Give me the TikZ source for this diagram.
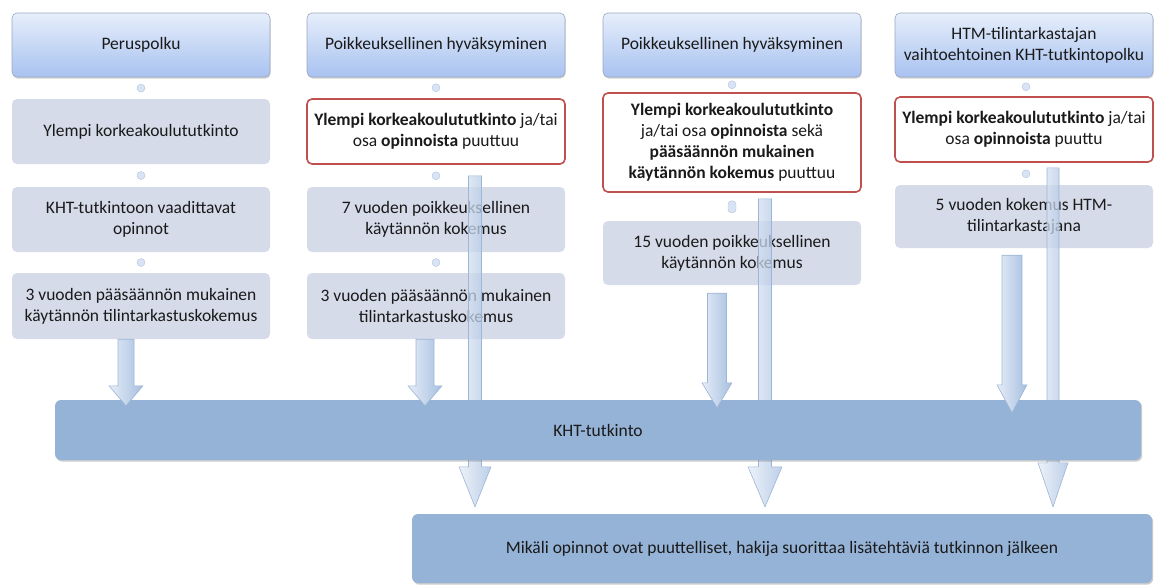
\documentclass[tikz,border=0pt]{standalone}
\usepackage{fontspec}
\setmainfont{Carlito}
\usetikzlibrary{shadows,calc}
\definecolor{hdrtop}{HTML}{E6EEFB}
\definecolor{hdrbot}{HTML}{A8C2F0}
\definecolor{hdrline}{HTML}{9AA8C0}
\definecolor{grayfill}{HTML}{D6DBE9}
\definecolor{redline}{HTML}{C0504D}
\definecolor{barfill}{HTML}{95B3D7}
\definecolor{arrL}{HTML}{E6EDF7}
\definecolor{arrR}{HTML}{A6BFE0}
\definecolor{arrB}{HTML}{9DB5D6}
\definecolor{dotfill}{HTML}{D8E3F4}
\definecolor{dotline}{HTML}{B4C4DE}
\definecolor{txt}{HTML}{1A1A1A}
\begin{document}
\begin{tikzpicture}[x=1pt,y=-1pt,
  font=\fontsize{17.5}{21}\selectfont, text=txt,
  box/.style={rectangle, rounded corners=5pt, minimum width=258pt, align=center, inner sep=2pt},
  hdr/.style={box, top color=hdrtop, bottom color=hdrbot, draw=hdrline, line width=0.6pt,
    minimum height=64pt, drop shadow={shadow xshift=0.6pt, shadow yshift=-1.6pt, opacity=0.35}},
  gbox/.style={box, fill=grayfill},
  rbox/.style={box, fill=white, draw=redline, line width=1.6pt},
  bar/.style={rectangle, rounded corners=6pt, fill=barfill, inner sep=2pt,
    drop shadow={shadow xshift=1.2pt, shadow yshift=-1.6pt, opacity=0.4}},
  dot/.style={circle, inner sep=0pt, minimum size=8pt, fill=dotfill, draw=dotline, line width=0.4pt},
  pill/.style={rectangle, rounded corners=3.5pt, inner sep=0pt, minimum width=8pt, minimum height=12pt,
    fill=dotfill, draw=dotline, line width=0.4pt},
  barr/.style={left color=arrL, right color=arrR, draw=arrB, line width=0.6pt},
  tarr/.style={barr, fill opacity=0.75},
  barrow/.style n args={3}{to path={let \p1=(\tikztostart), \p2=(\tikztotarget) in
    (\x1-#1,\y1) -- (\x1+#1,\y1) -- (\x1+#1,\y2+#3) -- (\x1+#2,\y2+#3) -- (\x1,\y2)
    -- (\x1-#2,\y2+#3) -- (\x1-#1,\y2+#3) -- cycle}}
]
\useasboundingbox (0,0) rectangle (1154,584);

% headers
\node[hdr] (h1) at (141,45) {Peruspolku};
\node[hdr] (h2) at (436,45) {Poikkeuksellinen hyväksyminen};
\node[hdr] (h3) at (732,45) {Poikkeuksellinen hyväksyminen};
\node[hdr] (h4) at (1024,45) {HTM-tilintarkastajan\\vaihtoehtoinen KHT-tutkintopolku};

% column 1
\node[gbox, minimum height=65pt] (a1) at (141,131.5) {Ylempi korkeakoulututkinto};
\node[gbox, minimum height=65pt] (a2) at (141,219.5) {KHT-tutkintoon vaadittavat\\opinnot};
\node[gbox, minimum height=66pt] (a3) at (141,306) {3 vuoden pääsäännön mukainen\\käytännön tilintarkastuskokemus};

% column 2
\node[rbox, minimum height=65pt] (b1) at (436,131.5) {\textbf{Ylempi korkeakoulututkinto} ja/tai\\osa \textbf{opinnoista} puuttuu};
\node[gbox, minimum height=65pt] (b2) at (436,219.5) {7 vuoden poikkeuksellinen\\käytännön kokemus};
\node[gbox, minimum height=66pt] (b3) at (436,306) {3 vuoden pääsäännön mukainen\\tilintarkastuskokemus};

% column 3
\node[rbox, minimum height=99pt] (c1) at (732,142.5) {\textbf{Ylempi korkeakoulututkinto}\\ja/tai osa \textbf{opinnoista} sekä\\\textbf{pääsäännön mukainen}\\\textbf{käytännön kokemus} puuttuu};
\node[gbox, minimum height=64pt] (c2) at (732,253) {15 vuoden poikkeuksellinen\\käytännön kokemus};

% column 4
\node[rbox, minimum height=65pt] (d1) at (1024,129.5) {\textbf{Ylempi korkeakoulututkinto} ja/tai\\osa \textbf{opinnoista} puuttu};
\node[gbox, minimum height=63pt] (d2) at (1024,216.5) {5 vuoden kokemus HTM-\\tilintarkastajana};

% connector dots
\node[dot] (p1) at ($(h1.south)!0.5!(a1.north)$) {};
\node[dot] (p2) at ($(a1.south)!0.5!(a2.north)$) {};
\node[dot] (p3) at ($(a2.south)!0.5!(a3.north)$) {};
\node[dot] (q1) at ($(h2.south)!0.5!(b1.north)$) {};
\node[dot] (q2) at ($(b1.south)!0.5!(b2.north)$) {};
\node[dot] (q3) at ($(b2.south)!0.5!(b3.north)$) {};
\node[dot] (r1) at ($(h3.south)!0.5!(c1.north)$) {};
\node[pill] (r2) at ($(c1.south)!0.5!(c2.north)$) {};
\node[dot] (s1) at ($(h4.south)!0.5!(d1.north)+(2,0)$) {};
\node[dot] (s2) at ($(d1.south)!0.5!(d2.north)+(2,0)$) {};

% bottom bar
\node[bar, minimum width=740pt, minimum height=69pt] (mik) at (782,548.5)
  {Mikäli opinnot ovat puuttelliset, hakija suorittaa lisätehtäviä tutkinnon jälkeen};

% long arrows (behind the KHT bar)
\draw[tarr, barrow={6.5pt}{16pt}{40pt}] ([xshift=39pt,yshift=-11pt]b1.south) to ([yshift=7pt]mik.north);
\draw[tarr, barrow={6.5pt}{17pt}{40pt}] ([xshift=33pt,yshift=-6pt]c1.south) to ([yshift=7pt]mik.north);
\draw[tarr, barrow={6pt}{15pt}{44pt}] ([xshift=29pt,yshift=-5pt]d1.south) to ([yshift=7pt]mik.north);

% KHT bar
\node[bar, minimum width=1086pt, minimum height=60pt] (kht) at (598,430) {KHT-tutkinto};

% short arrows into the KHT bar
\draw[barr, barrow={8pt}{17pt}{20pt}] ([xshift=-15pt]a3.south) to ([yshift=-6pt]kht.north);
\draw[barr, barrow={9pt}{17pt}{20pt}] ([xshift=-11pt]b3.south) to ([yshift=-6pt]kht.north);
\draw[barr, barrow={9.5pt}{15pt}{25pt}] ([xshift=-15pt,yshift=-8pt]c2.south) to ([yshift=-8pt]kht.north);
\draw[barr, barrow={10pt}{15pt}{28pt}] ([xshift=-12pt,yshift=-7pt]d2.south) to ([yshift=-13pt]kht.north);
\end{tikzpicture}
\end{document}
